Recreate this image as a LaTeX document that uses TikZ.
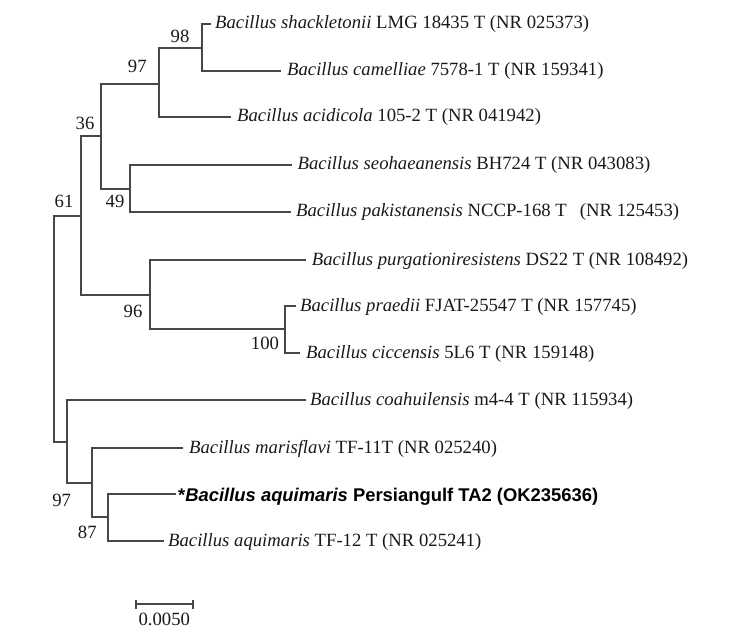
\documentclass[tikz,border=0pt]{standalone}
\usepackage{fontspec}
\setmainfont{Liberation Serif}
\newfontfamily\arialfont{Liberation Sans}
\begin{document}
\begin{tikzpicture}[x=1bp,y=-1bp,
  branch/.style={draw=black!72,line width=1.8bp,line cap=rect},
  leaf/.style={anchor=base west,inner sep=0pt,font=\fontsize{18.7bp}{22bp}\selectfont,text=black!90},
  boot/.style={inner sep=0pt,font=\fontsize{18.7bp}{22bp}\selectfont,text=black!90},
  boldleaf/.style={anchor=base west,inner sep=0pt,font=\arialfont\bfseries\fontsize{18.4bp}{22bp}\selectfont,text=black}]
\useasboundingbox (0,0) rectangle (738,641);
% internal nodes (x of vertical line, y of stem)
\coordinate (root) at (54,328);
\coordinate (n61) at (81,216);
\coordinate (n36) at (101,136);
\coordinate (n97a) at (159,84);
\coordinate (n98) at (202,48);
\coordinate (n49) at (130,189);
\coordinate (n96) at (150,295);
\coordinate (n100) at (285,329);
\coordinate (n97b) at (67,442);
\coordinate (nX) at (92,483);
\coordinate (n87) at (108,517);
% leaf line ends
\coordinate (L1) at (210,24);
\coordinate (L2) at (280,71);
\coordinate (L3) at (230,117);
\coordinate (L4) at (291,165);
\coordinate (L5) at (290,212);
\coordinate (L6) at (305,260);
\coordinate (L7) at (295,306);
\coordinate (L8) at (299,353);
\coordinate (L9) at (305,400);
\coordinate (L10) at (182,448);
\coordinate (L11) at (175,494);
\coordinate (L12) at (163,541);
% branches
\draw[branch] (root) |- (n61);
\draw[branch] (root) |- (n97b);
\draw[branch] (n61) |- (n36);
\draw[branch] (n61) |- (n96);
\draw[branch] (n36) |- (n97a);
\draw[branch] (n36) |- (n49);
\draw[branch] (n97a) |- (n98);
\draw[branch] (n97a) |- (L3);
\draw[branch] (n98) |- (L1);
\draw[branch] (n98) |- (L2);
\draw[branch] (n49) |- (L4);
\draw[branch] (n49) |- (L5);
\draw[branch] (n96) |- (L6);
\draw[branch] (n96) |- (n100);
\draw[branch] (n100) |- (L7);
\draw[branch] (n100) |- (L8);
\draw[branch] (n97b) |- (L9);
\draw[branch] (n97b) |- (nX);
\draw[branch] (nX) |- (L10);
\draw[branch] (nX) |- (n87);
\draw[branch] (n87) |- (L11);
\draw[branch] (n87) |- (L12);
% leaf labels
\node[leaf] (t1) at (215,29) {\textit{Bacillus shackletonii} LMG 18435 T (NR 025373)};
\node[leaf] (t2) at (287,76) {\textit{Bacillus camelliae} 7578-1 T (NR 159341)};
\node[leaf] (t3) at (237,122) {\textit{Bacillus acidicola} 105-2 T (NR 041942)};
\node[leaf] (t4) at (297.5,170) {\textit{Bacillus seohaeanensis} BH724 T (NR 043083)};
\node[leaf] (t5) at (296,217) {\textit{Bacillus pakistanensis} NCCP-168 T\hspace{0.45em} (NR 125453)};
\node[leaf] (t6) at (311.7,265) {\textit{Bacillus purgationiresistens} DS22 T (NR 108492)};
\node[leaf] (t7) at (300,311) {\textit{Bacillus praedii} FJAT-25547 T (NR 157745)};
\node[leaf] (t8) at (306,358) {\textit{Bacillus ciccensis} 5L6 T (NR 159148)};
\node[leaf] (t9) at (310,405) {\textit{Bacillus coahuilensis} m4-4 T (NR 115934)};
\node[leaf] (t10) at (189,453) {\textit{Bacillus marisflavi} TF-11T (NR 025240)};
\node[boldleaf] (t11) at (178,501) {*\textit{Bacillus aquimaris} Persiangulf TA2 (OK235636)};
\node[leaf] (t12) at (168,546) {\textit{Bacillus aquimaris} TF-12 T (NR 025241)};
% bootstrap values
\node[boot] (b98) at (180,36.7) {98};
\node[boot] (b97a) at (137.3,66.7) {97};
\node[boot] (b36) at (85,123.3) {36};
\node[boot] (b61) at (64,201.7) {61};
\node[boot] (b49) at (115,201.7) {49};
\node[boot] (b96) at (133,311) {96};
\node[boot] (b100) at (265,343) {100};
\node[boot] (b97b) at (61.7,500) {97};
\node[boot] (b87) at (87.3,532.7) {87};
% scale bar
\coordinate (s1) at (136,604);
\coordinate (s2) at (193,604);
\draw[branch,line cap=butt] (s1) -- (s2);
\draw[branch,line cap=butt] ([yshift=-4.5bp]s1) -- ([yshift=4.5bp]s1);
\draw[branch,line cap=butt] ([yshift=-4.5bp]s2) -- ([yshift=4.5bp]s2);
\node[boot] (scale) at (164.3,619) {0.0050};
\end{tikzpicture}
\end{document}
